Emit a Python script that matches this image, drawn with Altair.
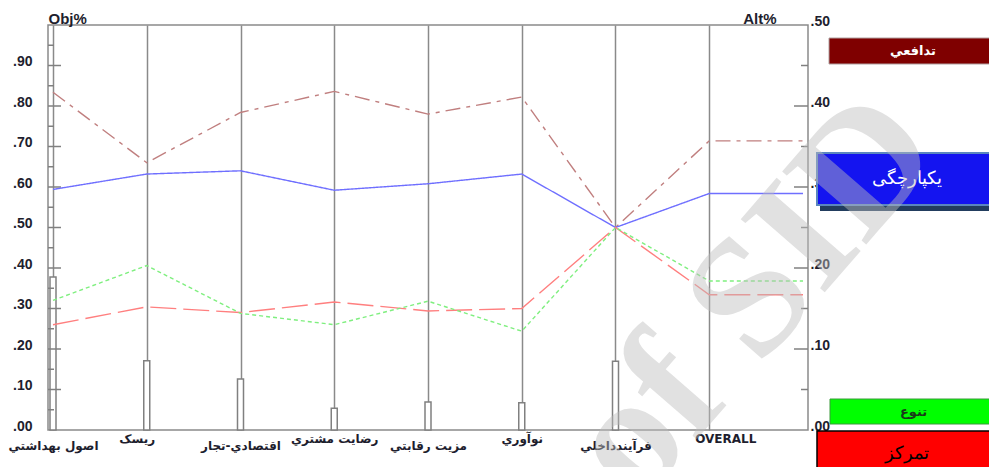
import json
import altair as alt
import pandas as pd

# ---------------- data ----------------
categories = ["اصول بهداشتي", "ریسک", "اقتصادي-تجار", "رضايت مشتري",
              "مزيت رقابتي", "نوآوري", "فرآيندداخلي", "OVERALL"]
# objective weights (left axis, Obj%) - OVERALL has no bar
obj_weights = [0.378, 0.171, 0.126, 0.054, 0.069, 0.067, 0.170]

series_names = ["تدافعي", "يکپارچگی", "تمرکز", "تنوع"]
alt_defensive = [0.417, 0.330, 0.392, 0.418, 0.390, 0.411, 0.250, 0.357]
alt_integration = [0.297, 0.316, 0.320, 0.296, 0.304, 0.316, 0.250, 0.292]
alt_concentration = [0.130, 0.152, 0.145, 0.158, 0.147, 0.150, 0.250, 0.167]
alt_diversification = [0.160, 0.203, 0.144, 0.130, 0.159, 0.122, 0.250, 0.184]
series_values = [alt_defensive, alt_integration, alt_concentration, alt_diversification]
series_colors = ["#c07f7f", "#6f6fff", "#ff7f7f", "#7fef7f"]
series_dashes = [[15, 6, 4, 6], [1, 0], [26, 7], [4, 3]]

obj_ticks_major = [0.1, 0.2, 0.3, 0.4, 0.5, 0.6, 0.7, 0.8, 0.9]
obj_ticks_minor = [0.05, 0.15, 0.25, 0.35, 0.45, 0.55, 0.65, 0.75, 0.85, 0.95]
alt_ticks_major = [0.1, 0.2, 0.3, 0.4]
alt_ticks_minor = [0.05, 0.15, 0.25, 0.35, 0.45]
obj_labels = [0.0, 0.1, 0.2, 0.3, 0.4, 0.5, 0.6, 0.7, 0.8, 0.9]
alt_labels = [0.0, 0.1, 0.2, 0.3, 0.4, 0.5]

# ---------------- tables ----------------
bars_df = pd.DataFrame({"idx": list(range(len(obj_weights))), "w": obj_weights})
rows = []
for name, vals in zip(series_names, series_values):
    ext = vals + [vals[-1]]  # flat continuation from OVERALL to the right axis
    for i, v in enumerate(ext):
        rows.append({"series": name, "idx": i, "v": v})
lines_df = pd.DataFrame(rows)

W, H = 760, 405
AXIS_COL = "#8a8a8a"
LABEL_COL = "#1e1e2e"

cat_expr = json.dumps(categories, ensure_ascii=False) + "[datum.value]"
num_expr = "replace(format(datum.value, '.2f'), '0.', '.')"

x_axis = alt.Axis(
    values=list(range(len(categories))),
    labelExpr=cat_expr,
    grid=True, gridColor=AXIS_COL, gridWidth=1.5,
    ticks=False, domain=False, title=None,
    labelFont="DejaVu Sans", labelFontWeight="bold", labelFontSize=12,
    labelColor=LABEL_COL, labelBaseline="top", labelAngle=0,
    labelPadding={"condition": {"test": "datum.value % 2 == 1", "value": 3}, "value": 10},
    labelOffset={"expr": "datum.value == 7 ? 16 : (datum.value == 1 ? -10 : 0)"},
    labelOverlap=False, labelFlush=False,
)
x_scale = alt.Scale(domain=[0, 8], nice=False, zero=False)


def xq():
    return alt.X("idx:Q", scale=x_scale, axis=x_axis)


bars = alt.Chart(bars_df).mark_bar(
    size=6, fill="white", stroke="#808080", strokeWidth=1.5
).encode(
    x=xq(),
    y=alt.Y("w:Q", scale=alt.Scale(domain=[0, 1], nice=False),
            axis=alt.Axis(orient="left", values=obj_labels, labelExpr=num_expr,
                          ticks=False, domain=False, grid=False,
                          labelPadding=16, labelFont="Liberation Sans",
                          labelFontWeight="bold", labelFontSize=14,
                          labelColor=LABEL_COL, labelBaseline="alphabetic",
                          title="Obj%", titleAngle=0, titleX=0, titleY=-2,
                          titleAlign="left", titleBaseline="alphabetic",
                          titleFont="Liberation Sans", titleFontSize=15,
                          titleFontWeight="bold", titleColor=LABEL_COL)),
)


def tick_layer(values, domain, x0, x1):
    return alt.Chart(pd.DataFrame({"t": values})).mark_rule(
        color="#808080", strokeWidth=1.5
    ).encode(
        y=alt.Y("t:Q", scale=alt.Scale(domain=domain, nice=False), axis=None),
        x=alt.value(x0), x2=alt.value(x1),
    )


left_major = tick_layer(obj_ticks_major, [0, 1], 0, 13)
left_minor = tick_layer(obj_ticks_minor, [0, 1], 0, 6)
right_major = tick_layer(alt_ticks_major, [0, 0.5], W - 14, W)
right_minor = tick_layer(alt_ticks_minor, [0, 0.5], W - 7, W)

lines = alt.Chart(lines_df).mark_line(strokeWidth=1.4).encode(
    x=xq(),
    y=alt.Y("v:Q", scale=alt.Scale(domain=[0, 0.5], nice=False),
            axis=alt.Axis(orient="right", values=alt_labels, labelExpr=num_expr,
                          ticks=False, domain=False, grid=False,
                          labelPadding=2, labelFont="Liberation Sans",
                          labelFontWeight="bold", labelFontSize=14,
                          labelColor=LABEL_COL, labelBaseline="alphabetic",
                          title="Alt%", titleAngle=0, titleX=-32, titleY=-2,
                          titleAlign="right", titleBaseline="alphabetic",
                          titleFont="Liberation Sans", titleFontSize=15,
                          titleFontWeight="bold", titleColor=LABEL_COL)),
    color=alt.Color("series:N", scale=alt.Scale(domain=series_names, range=series_colors),
                    legend=None),
    strokeDash=alt.StrokeDash("series:N",
                              scale=alt.Scale(domain=series_names, range=series_dashes),
                              legend=None),
    detail="series:N",
)


def box(label, fill, stroke, stroke_w, text_color, x0, x1, y0, y1, fs, font, weight):
    d = pd.DataFrame({"label": [label]})
    r = alt.Chart(d).mark_rect(fill=fill, stroke=stroke, strokeWidth=stroke_w).encode(
        x=alt.value(x0), x2=alt.value(x1), y=alt.value(y0), y2=alt.value(y1))
    t = alt.Chart(d).mark_text(color=text_color, fontSize=fs, font=font, fontWeight=weight,
                               align="center", baseline="middle").encode(
        text="label:N", x=alt.value((x0 + x1) / 2), y=alt.value((y0 + y1) / 2))
    return [r, t]


shadow = alt.Chart(pd.DataFrame({"label": [series_names[1]]})).mark_rect(
    fill="#223d5e").encode(x=alt.value(772), x2=alt.value(949),
                           y=alt.value(180), y2=alt.value(186))

boxes = []
boxes += box(series_names[0], "#7f0000", "#b0a0a0", 1, "white", 781, 949, 13, 39, 13,
             "DejaVu Sans", "bold")
boxes += [shadow]
boxes += box(series_names[1], "#1414f0", "#5a86bf", 2, "white", 769, 949, 128, 180, 18,
             "DejaVu Serif", "normal")
boxes += box(series_names[3], "#00ff00", "#3a9a3a", 1, "#1a3a1a", 782, 949, 374, 399, 13,
             "DejaVu Sans", "bold")
boxes += box(series_names[2], "#ff0000", "#000000", 1.5, "#000000", 769, 949, 406, 452, 18,
             "DejaVu Serif", "normal")

watermark = alt.Chart(pd.DataFrame({"t": ["of SID"]})).mark_text(
    text="of SID", angle=311, fontSize=170, font="Liberation Serif",
    fontWeight="bold", color="#bdbdbd", opacity=0.45,
    align="center", baseline="middle"
).encode(x=alt.value(705), y=alt.value(272))

chart = alt.layer(
    bars, left_major, left_minor, right_major, right_minor, lines, *boxes, watermark
).resolve_scale(
    y="independent"
).properties(
    width=W, height=H,
    autosize=alt.AutoSizeParams(type="none"),
    padding={"left": 40, "top": 17, "right": 181, "bottom": 37},
    background="white",
).configure_view(
    stroke=AXIS_COL, strokeWidth=1.5
)

chart.save("out.html", embed_options={"renderer": "svg", "actions": False})
